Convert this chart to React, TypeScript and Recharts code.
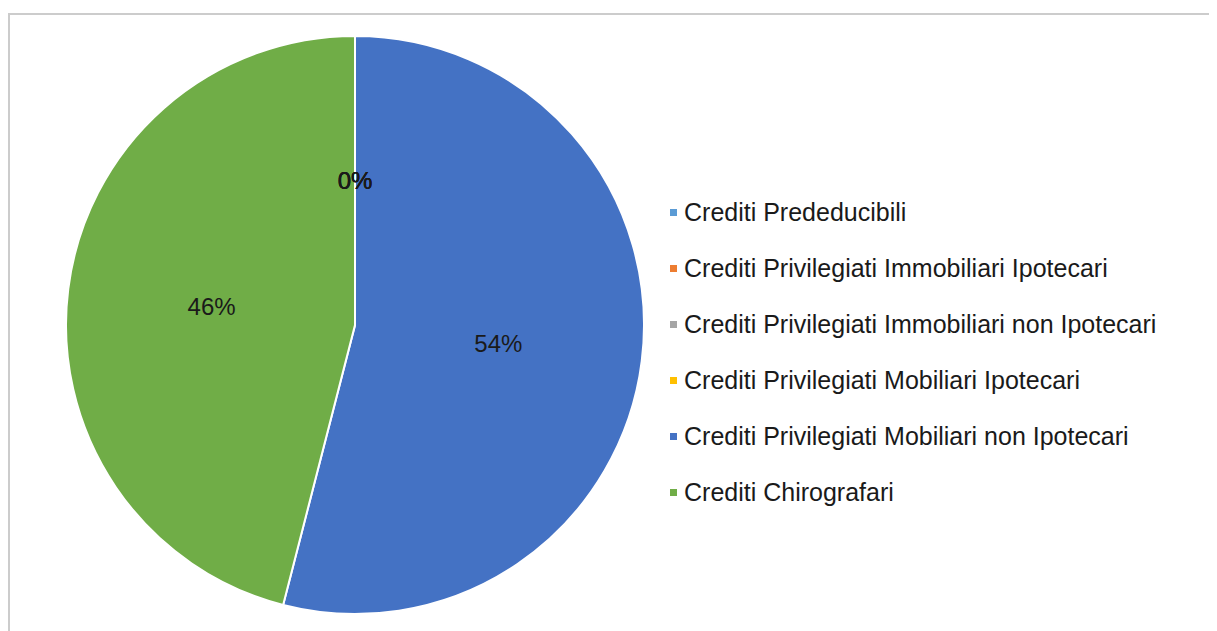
import React from "react";
import { PieChart, Pie, Cell, Legend } from "recharts";

const categories = [
  "Crediti Prededucibili",
  "Crediti Privilegiati Immobiliari Ipotecari",
  "Crediti Privilegiati Immobiliari non Ipotecari",
  "Crediti Privilegiati Mobiliari Ipotecari",
  "Crediti Privilegiati Mobiliari non Ipotecari",
  "Crediti Chirografari",
];
const shares = [0, 0, 0, 0, 54, 46];
const colors = ["#5B9BD5", "#ED7D31", "#A5A5A5", "#FFC000", "#4472C4", "#70AD47"];

const data = categories.map((name, i) => ({ name, value: shares[i] }));

const FONT = "'Liberation Sans', Arial, sans-serif";
const RAD = Math.PI / 180;

function renderLabel(props: any) {
  const { cx, cy, midAngle, outerRadius, percent } = props;
  const r = outerRadius * 0.5;
  const x = cx + r * Math.cos(-midAngle * RAD);
  const y = cy + r * Math.sin(-midAngle * RAD);
  return (
    <text x={x} y={y} fill="#1a1a1a" fontSize={24} fontFamily={FONT} textAnchor="middle" dominantBaseline="central">
      {`${Math.round(percent * 100)}%`}
    </text>
  );
}

function renderLegend() {
  return (
    <div style={{ fontFamily: FONT, fontSize: 25, color: "#1a1a1a" }}>
      {categories.map((c, i) => (
        <div key={c} style={{ height: 56, lineHeight: "56px", display: "flex", alignItems: "center", whiteSpace: "nowrap" }}>
          <span style={{ width: 7, height: 7, background: colors[i], display: "inline-block", marginRight: 7 }} />
          {c}
        </div>
      ))}
    </div>
  );
}

export default function App() {
  return (
    <div style={{ paddingTop: 5 }}>
      <style>{`body{overflow:hidden}`}</style>
      <div style={{ width: 1215, height: 630, border: "2px solid #cccccc", background: "#fff" }}>
        <PieChart width={1205} height={620}>
          <Pie
            data={data}
            dataKey="value"
            nameKey="name"
            cx={340}
            cy={305}
            outerRadius={289}
            startAngle={90}
            endAngle={-270}
            stroke="#ffffff"
            strokeWidth={2}
            label={renderLabel}
            labelLine={false}
            isAnimationActive={false}
          >
            {data.map((d, i) => (
              <Cell key={d.name} fill={colors[i]} />
            ))}
          </Pie>
          <Legend content={renderLegend} wrapperStyle={{ top: 169, left: 660, width: 540 }} />
        </PieChart>
      </div>
    </div>
  );
}
